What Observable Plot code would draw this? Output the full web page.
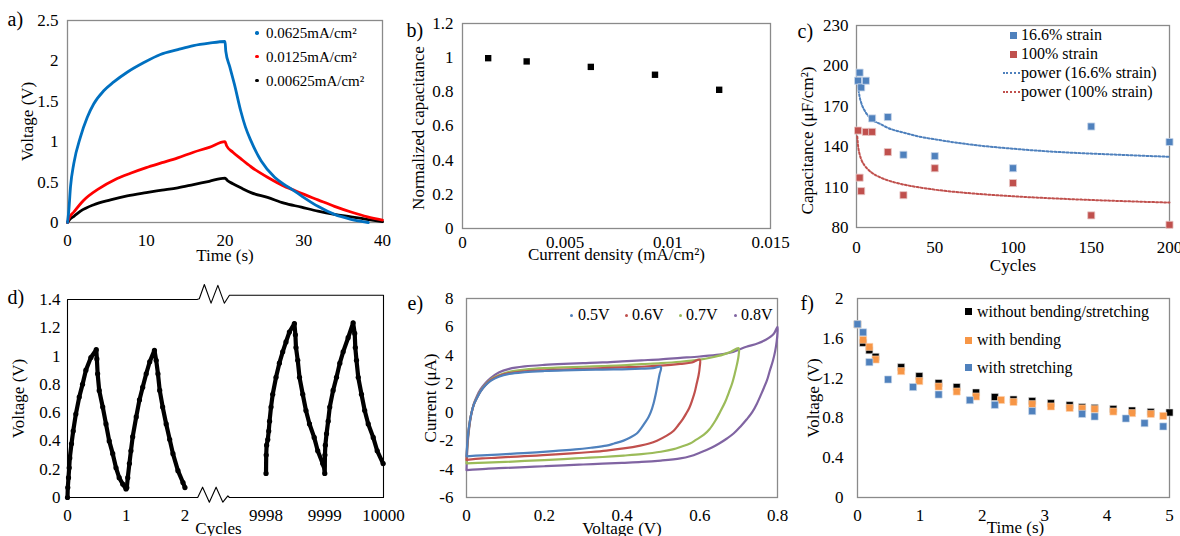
<!DOCTYPE html>
<html><head><meta charset="utf-8">
<script src="https://cdn.jsdelivr.net/npm/d3@7"></script>
<script src="https://cdn.jsdelivr.net/npm/@observablehq/plot@0.6"></script>
<style>
body{margin:0;background:#fff;}
#fig{position:relative;width:1180px;height:536px;overflow:hidden;background:#fff;font-family:"Liberation Serif","Times New Roman",serif;}
#fig svg{position:absolute;overflow:visible;}
.leg{position:absolute;line-height:1;white-space:nowrap;color:#000;transform:translateY(-50%);}
.mk{position:absolute;}
</style></head><body><div id="fig"></div>
<script>
// ---------- Panel a: galvanostatic charge/discharge ----------
const aTimeBlue = [0,0.17,0.38,0.8,1.65,2.5,3.34,4.6,5.88,7.58,9.7,11.8,14,16,18,20,20.1,20.6,21.2,22,22.6,23.3,24.6,26.3,27.5,28.5,29.7,31.8,33.9,36,38.2];
const aVoltBlue = [0,0.15,0.44,0.73,1.06,1.30,1.47,1.63,1.74,1.86,1.98,2.08,2.14,2.19,2.22,2.24,2.12,1.93,1.71,1.38,1.18,1.01,0.76,0.56,0.47,0.41,0.33,0.2,0.1,0.04,0.0];
const aTimeRed = [0,0.17,0.8,2,4,6,8,10,12,14,16,18,20,20.2,21,22,23.3,25.4,27.5,28.5,29.7,31.8,33.9,36,38.1,40];
const aVoltRed = [0,0.05,0.13,0.27,0.42,0.53,0.61,0.68,0.74,0.80,0.87,0.93,1.0,0.95,0.87,0.79,0.69,0.56,0.45,0.41,0.36,0.28,0.2,0.13,0.07,0.03];
const aTimeBlack = [0,0.3,0.85,1.65,3.34,5.46,7.58,10,12,14,16,18,20,20.3,21,22,23.3,25.4,27.5,29.7,31.8,33.9,36,38,40];
const aVoltBlack = [0,0.04,0.08,0.14,0.22,0.28,0.33,0.37,0.40,0.43,0.47,0.51,0.55,0.52,0.48,0.43,0.37,0.31,0.24,0.19,0.14,0.1,0.07,0.04,0.01];
const aLegend = ["0.0625mA/cm²","0.0125mA/cm²","0.00625mA/cm²"];

// ---------- Panel b: normalized capacitance ----------
const bDensity = [0.00125,0.003125,0.00625,0.009375,0.0125];
const bCap = [0.997,0.978,0.946,0.9,0.812];

// ---------- Panel c: capacitance vs cycles ----------
const cCycles = [1,2,3,6,10,20,30,50,100,150,200];
const cBlue = [189,195,184,189,161,162,134,133,124,155,143.5];
const cRed = [152,117,107,151,151,136,104,124,113,89,82];
const cTrendCyclesBlue = [1,2,3,5,7,10,15,20,30,40,50,70,100,130,160,200];
const cTrendBlue = [185,177,172.6,167.2,163.6,160,157,154,150.5,147.5,145.5,142,138.5,136,134.4,132.5];
const cTrendCyclesRed = [0.5,1,2,3,5,7,10,15,20,30,40,50,70,100,130,160,200];
const cTrendRed = [147.6,140.8,134.4,130.7,126.3,123.5,120.5,117.3,115,111.9,109.8,108.1,105.7,103.2,101.4,100,98.5];
const cLegend = ["16.6% strain","100% strain","power (16.6% strain)","power (100% strain)"];

// ---------- Panel d: cycling ----------
const dCycA = [0,0.005,0.017,0.029,0.039,0.068,0.097,0.142,0.2,0.256,0.313,0.398,0.49,0.5,0.513,0.54,0.6,0.655,0.71,0.77,0.826,0.88,0.94,0.997,1.01,1.026,1.054,1.08,1.11,1.17,1.225,1.28,1.34,1.4,1.48,1.51,1.54,1.57,1.62,1.68,1.74,1.795,1.88,1.966,2.0];
const dVoltA = [0,0.07,0.14,0.21,0.28,0.38,0.47,0.59,0.71,0.80,0.90,0.99,1.045,0.98,0.875,0.757,0.64,0.52,0.40,0.31,0.21,0.14,0.095,0.06,0.07,0.14,0.24,0.33,0.43,0.57,0.69,0.78,0.875,0.96,1.04,0.97,0.875,0.757,0.64,0.52,0.41,0.31,0.19,0.106,0.07];
const dCycB = [9998,9998.003,9998.01,9998.03,9998.046,9998.06,9998.085,9998.114,9998.17,9998.227,9998.284,9998.34,9998.398,9998.483,9998.50,9998.51,9998.54,9998.57,9998.625,9998.68,9998.74,9998.82,9998.88,9998.965,9998.985,9999.0,9999.003,9999.01,9999.03,9999.058,9999.085,9999.142,9999.2,9999.256,9999.313,9999.398,9999.483,9999.51,9999.52,9999.54,9999.57,9999.625,9999.68,9999.74,9999.825,9999.893,9999.994];
const dVoltB = [0.17,0.30,0.37,0.41,0.47,0.54,0.64,0.73,0.85,0.95,1.03,1.10,1.17,1.23,1.15,1.06,0.97,0.85,0.73,0.615,0.52,0.425,0.33,0.24,0.225,0.17,0.30,0.37,0.45,0.54,0.64,0.757,0.85,0.95,1.03,1.13,1.235,1.16,1.06,0.97,0.85,0.73,0.615,0.52,0.425,0.33,0.24];
const dTickCycles = [0,1,2,9998,9999,10000];
// axis break (broken-axis zigzag), in compressed axis units
const dBreakTop = [[2.205,1.4],[2.244,1.405],[2.33,1.506],[2.444,1.374],[2.56,1.5],[2.67,1.374],[2.757,1.43]];
const dBreakBottom = [[2.757,0.0],[2.73,0.012],[2.645,-0.033],[2.53,0.073],[2.415,-0.033],[2.30,0.073],[2.217,0.0]];

// ---------- Panel e: cyclic voltammetry ----------
const eV05 = [0,0.002,0.006,0.012,0.019,0.027,0.036,0.049,0.062,0.083,0.11,0.15,0.2,0.25,0.3,0.35,0.4,0.45,0.48,0.5,0.5,0.497,0.492,0.487,0.481,0.474,0.468,0.46,0.45,0.438,0.42,0.404,0.38,0.36,0.32,0.28,0.23,0.18,0.13,0.08,0.04,0];
const eI05 = [-3.1,-2.2,-1.1,-0.15,0.55,1.0,1.45,1.9,2.2,2.5,2.7,2.82,2.9,2.95,2.98,3.0,3.02,3.06,3.1,3.2,3.0,2.7,2.0,1.3,0.6,0.0,-0.35,-0.7,-1.1,-1.5,-1.8,-2.0,-2.2,-2.35,-2.5,-2.62,-2.72,-2.82,-2.9,-2.98,-3.03,-3.1];
const eV06 = [0,0.002,0.006,0.012,0.019,0.027,0.036,0.049,0.062,0.083,0.11,0.15,0.2,0.25,0.3,0.35,0.4,0.45,0.5,0.55,0.58,0.6,0.6,0.597,0.592,0.587,0.58,0.573,0.565,0.556,0.545,0.533,0.515,0.49,0.47,0.447,0.404,0.36,0.32,0.27,0.23,0.18,0.13,0.08,0.04,0];
const eI06 = [-3.35,-2.3,-1.15,-0.15,0.55,1.02,1.47,1.92,2.25,2.55,2.75,2.88,2.95,3.0,3.05,3.1,3.15,3.2,3.28,3.4,3.5,3.7,3.2,2.6,2.0,1.4,0.8,0.3,-0.1,-0.5,-0.9,-1.3,-1.65,-2.0,-2.2,-2.35,-2.55,-2.7,-2.8,-2.9,-2.97,-3.05,-3.12,-3.2,-3.25,-3.35];
const eV07 = [0,0.002,0.006,0.012,0.019,0.027,0.036,0.049,0.062,0.083,0.11,0.15,0.2,0.25,0.3,0.35,0.4,0.45,0.5,0.55,0.6,0.63,0.66,0.68,0.7,0.7,0.696,0.69,0.683,0.675,0.665,0.652,0.64,0.625,0.61,0.59,0.575,0.55,0.533,0.5,0.45,0.404,0.35,0.3,0.25,0.2,0.15,0.1,0.05,0];
const eI07 = [-3.6,-2.4,-1.2,-0.15,0.55,1.05,1.5,1.95,2.3,2.6,2.85,3.0,3.1,3.15,3.2,3.25,3.3,3.38,3.45,3.55,3.7,3.85,4.05,4.25,4.5,4.0,3.4,2.7,2.0,1.4,0.7,0.0,-0.6,-1.2,-1.6,-1.95,-2.2,-2.45,-2.6,-2.78,-2.95,-3.05,-3.15,-3.22,-3.3,-3.37,-3.43,-3.5,-3.55,-3.6];
const eV08 = [0,0.003,0.007,0.012,0.019,0.027,0.036,0.049,0.062,0.083,0.11,0.15,0.2,0.25,0.3,0.35,0.4,0.45,0.5,0.55,0.6,0.65,0.68,0.7,0.72,0.75,0.77,0.79,0.8,0.8,0.798,0.794,0.788,0.78,0.773,0.76,0.747,0.735,0.721,0.705,0.687,0.67,0.65,0.63,0.6,0.575,0.55,0.5,0.45,0.4,0.35,0.3,0.25,0.2,0.15,0.1,0.05,0];
const eI08 = [-4.07,-2.2,-1.1,-0.2,0.6,1.15,1.6,2.05,2.4,2.8,3.05,3.22,3.33,3.4,3.45,3.5,3.58,3.65,3.72,3.82,3.92,4.05,4.2,4.4,4.6,4.85,5.1,5.5,6.0,5.6,5.0,4.3,3.6,2.9,2.25,1.4,0.6,0.0,-0.5,-1.0,-1.5,-1.85,-2.2,-2.5,-2.85,-3.1,-3.25,-3.4,-3.5,-3.56,-3.62,-3.68,-3.74,-3.8,-3.86,-3.92,-3.98,-4.07];
const eLegend = ["0.5V","0.6V","0.7V","0.8V"];

// ---------- Panel f: self-discharge ----------
const fTimeBlack = [0,0.09,0.19,0.29,0.7,0.99,1.3,1.59,1.9,2.2,2.5,2.8,3.1,3.4,3.6,3.8,4.1,4.4,4.7,5.0];
const fVoltBlack = [1.74,1.554,1.48,1.414,1.31,1.22,1.15,1.11,1.055,1.01,0.985,0.97,0.948,0.928,0.908,0.90,0.89,0.874,0.86,0.854];
const fTimeOrange = [0,0.09,0.19,0.29,0.7,0.99,1.3,1.59,1.9,2.3,2.5,2.8,3.1,3.4,3.6,3.8,4.1,4.4,4.7,4.9];
const fVoltOrange = [1.74,1.585,1.514,1.387,1.27,1.17,1.115,1.065,1.015,0.98,0.96,0.938,0.915,0.90,0.895,0.888,0.864,0.848,0.84,0.82];
const fTimeBlue = [0,0.09,0.19,0.49,0.89,1.3,1.8,2.2,2.8,3.6,3.8,4.3,4.6,4.9];
const fVoltBlue = [1.742,1.66,1.36,1.186,1.11,1.035,0.978,0.931,0.868,0.84,0.814,0.794,0.747,0.714];
const fLegend = ["without bending/stretching","with bending","with stretching"];

// ---------- helpers ----------
const fig = document.getElementById("fig");
const rows = (xs, ys) => xs.map((x, i) => ({x, y: ys[i]}));
const fmt = d => d3.format("~g")(d).replace("\u2212", "-");
const FONT = "Liberation Serif";

function panel(o) {
  const svg = Plot.plot({
    width: o.w, height: o.h,
    marginLeft: o.fx0 - o.left, marginTop: o.fy0 - o.top,
    marginRight: o.left + o.w - o.fx1, marginBottom: o.top + o.h - o.fy1,
    x: {domain: o.xd}, y: {domain: o.yd},
    style: {fontFamily: FONT, fontSize: "17px", overflow: "visible", background: "none", color: "#000"},
    marks: [
      o.noFrame ? null : Plot.frame({stroke: "#8a8a8a", strokeWidth: 1.3}),
      Plot.axisX(o.xt, {tickSize: 0, tickPadding: o.xpad, tickFormat: o.xf || fmt, label: null}),
      Plot.axisY(o.yt, {tickSize: 0, tickPadding: o.ypad, tickFormat: o.yf || fmt, label: null}),
      Plot.text([o.xlabel], {frameAnchor: "bottom", textAnchor: "middle", lineAnchor: "middle", dy: o.xldy, dx: o.xldx || 0, fontSize: 17}),
      Plot.text([o.ylabel], {frameAnchor: "left", textAnchor: "middle", lineAnchor: "middle", rotate: -90, dx: o.yldx, dy: o.yldy || 0, fontSize: 17}),
      Plot.text([o.tag], {frameAnchor: "top-left", textAnchor: "start", lineAnchor: "middle", dx: o.tagdx, dy: o.tagdy, fontSize: 20}),
      ...o.marks
    ]
  });
  svg.style.left = o.left + "px";
  svg.style.top = o.top + "px";
  fig.append(svg);
}
function legText(x, y, text, size) {
  const d = document.createElement("div");
  d.className = "leg"; d.textContent = text;
  d.style.left = x + "px"; d.style.top = y + "px"; d.style.fontSize = size + "px";
  fig.append(d);
}
function legMark(cx, cy, s, color, round) {
  const d = document.createElement("div");
  d.className = "mk";
  Object.assign(d.style, {left: (cx - s / 2) + "px", top: (cy - s / 2) + "px", width: s + "px", height: s + "px", background: color, borderRadius: round ? "50%" : "0"});
  fig.append(d);
}
function legDotted(x0, x1, y, color) {
  const d = document.createElement("div");
  d.className = "mk";
  Object.assign(d.style, {left: x0 + "px", top: (y - 1) + "px", width: (x1 - x0) + "px", height: "0px", borderTop: "2px dotted " + color});
  fig.append(d);
}

// ---------- a ----------
const aColors = ["#0070c0", "#ff0000", "#000000"];
panel({left: 0, top: 0, w: 390, h: 268, fx0: 67, fy0: 20, fx1: 382, fy1: 222,
  xd: [0, 40], yd: [0, 2.5], xt: [0, 10, 20, 30, 40], yt: [0, 0.5, 1, 1.5, 2, 2.5],
  xpad: 11, ypad: 9, xlabel: "Time (s)", xldy: 33, ylabel: "Voltage (V)", yldx: -40,
  tag: "a)", tagdx: -60, tagdy: -1,
  marks: [
    Plot.line(rows(aTimeBlack, aVoltBlack), {x: "x", y: "y", stroke: aColors[2], strokeWidth: 2.8, curve: "monotone-x"}),
    Plot.line(rows(aTimeRed, aVoltRed), {x: "x", y: "y", stroke: aColors[1], strokeWidth: 2.8, curve: "monotone-x"}),
    Plot.line(rows(aTimeBlue, aVoltBlue), {x: "x", y: "y", stroke: aColors[0], strokeWidth: 2.8, curve: "monotone-x"})
  ]});
[33, 56.5, 80.5].forEach((y, i) => { legMark(257, y, 3.4, aColors[i], true); legText(266, y, aLegend[i], 15); });

// ---------- b ----------
panel({left: 390, top: 0, w: 390, h: 268, fx0: 462, fy0: 23, fx1: 770, fy1: 228,
  xd: [0, 0.015], yd: [0, 1.2], xt: [0, 0.005, 0.01, 0.015], yt: [0, 0.2, 0.4, 0.6, 0.8, 1, 1.2],
  xpad: 7, ypad: 9, xlabel: "Current density (mA/cm²)", xldy: 26, ylabel: "Normalized capacitance", yldx: -44, yldy: 2,
  tag: "b)", tagdx: -56, tagdy: 7,
  marks: [
    Plot.dot(rows(bDensity, bCap), {x: "x", y: "y", symbol: "square", r: 3.6, fill: "#000"})
  ]});

// ---------- c ----------
const cBlueC = "#4f81bd", cRedC = "#c0504d";
panel({left: 780, top: 0, w: 400, h: 270, fx0: 856, fy0: 25, fx1: 1169, fy1: 227,
  xd: [0, 200], yd: [80, 230], xt: [0, 50, 100, 150, 200], yt: [80, 110, 140, 170, 200, 230],
  xpad: 13, ypad: 8, xlabel: "Cycles", xldy: 38, ylabel: "Capacitance (μF/cm²)", yldx: -49, yldy: 14,
  tag: "c)", tagdx: -59, tagdy: 6,
  marks: [
    Plot.line(rows(cTrendCyclesBlue, cTrendBlue), {x: "x", y: "y", stroke: cBlueC, strokeWidth: 2, strokeDasharray: "2,2", curve: "monotone-x"}),
    Plot.line(rows(cTrendCyclesRed, cTrendRed), {x: "x", y: "y", stroke: cRedC, strokeWidth: 2, strokeDasharray: "2,2", curve: "monotone-x"}),
    Plot.dot(rows(cCycles, cBlue), {x: "x", y: "y", symbol: "square", r: 4, fill: cBlueC, stroke: "#c9d7ea", strokeWidth: 0.8}),
    Plot.dot(rows(cCycles, cRed), {x: "x", y: "y", symbol: "square", r: 4, fill: cRedC, stroke: "#e8c8c7", strokeWidth: 0.8})
  ]});
legMark(1013, 35.3, 7, cBlueC, false); legText(1021, 35.3, cLegend[0], 16);
legMark(1013, 54, 7, cRedC, false); legText(1021, 54, cLegend[1], 16);
legDotted(1003, 1020, 72.7, cBlueC); legText(1021, 72.7, cLegend[2], 16);
legDotted(1003, 1020, 92, cRedC); legText(1021, 92, cLegend[3], 16);

// ---------- d ----------
const dMap = c => c < 5000 ? c : c - 9998 + 3.38;
const dTickMap = new Map(dTickCycles.map(c => [dMap(c), String(c)]));
const dFrame = [[0, 0], [0, 1.4], ...dBreakTop, [dMap(10000), 1.43], [dMap(10000), 0], ...dBreakBottom, [0, 0]];
panel({left: 0, top: 270, w: 390, h: 266, fx0: 67, fy0: 299, fx1: 383, fy1: 497,
  xd: [0, dMap(10000)], yd: [0, 1.4], xt: dTickCycles.map(dMap), yt: [0, 0.2, 0.4, 0.6, 0.8, 1, 1.2, 1.4],
  xf: u => dTickMap.get(u), xpad: 11, ypad: 7, xlabel: "Cycles", xldy: 31, xldx: -7, ylabel: "Voltage (V)", yldx: -49,
  tag: "d)", tagdx: -60, tagdy: -2, noFrame: true,
  marks: [
    Plot.line(dFrame, {x: d => d[0], y: d => d[1], stroke: "#000", strokeWidth: 1.1}),
    Plot.line(rows(dCycA, dVoltA), {x: d => dMap(d.x), y: "y", stroke: "#000", strokeWidth: 4.2}),
    Plot.line(rows(dCycB, dVoltB), {x: d => dMap(d.x), y: "y", stroke: "#000", strokeWidth: 4.2}),
    Plot.dot(rows(dCycA, dVoltA).concat(rows(dCycB, dVoltB)), {x: d => dMap(d.x), y: "y", r: 2.6, fill: "#000"})
  ]});

// ---------- e ----------
const eColors = ["#4f81bd", "#c0504d", "#9bbb59", "#8064a2"];
panel({left: 390, top: 270, w: 390, h: 266, fx0: 466, fy0: 298, fx1: 777, fy1: 497,
  xd: [0, 0.8], yd: [-6, 8], xt: [0, 0.2, 0.4, 0.6, 0.8], yt: [-6, -4, -2, 0, 2, 4, 6, 8],
  xpad: 11, ypad: 13, xlabel: "Voltage (V)", xldy: 31, ylabel: "Current (μA)", yldx: -36,
  tag: "e)", tagdx: -59, tagdy: 5,
  marks: [
    Plot.line(rows(eV08, eI08), {x: "x", y: "y", stroke: eColors[3], strokeWidth: 2.2, curve: "catmull-rom"}),
    Plot.line(rows(eV07, eI07), {x: "x", y: "y", stroke: eColors[2], strokeWidth: 2.2, curve: "catmull-rom"}),
    Plot.line(rows(eV06, eI06), {x: "x", y: "y", stroke: eColors[1], strokeWidth: 2.2, curve: "catmull-rom"}),
    Plot.line(rows(eV05, eI05), {x: "x", y: "y", stroke: eColors[0], strokeWidth: 2.2, curve: "catmull-rom"})
  ]});
[[571, 578], [626, 632], [680, 686], [735, 741]].forEach(([mx, tx], i) => { legMark(mx, 315, 3, eColors[i], true); legText(tx, 315, eLegend[i], 16); });

// ---------- f ----------
const fColors = ["#000000", "#f79646", "#4f81bd"];
panel({left: 780, top: 270, w: 400, h: 266, fx0: 857, fy0: 298, fx1: 1169, fy1: 497,
  xd: [0, 5], yd: [0, 2], xt: [0, 1, 2, 3, 4, 5], yt: [0, 0.4, 0.8, 1.2, 1.6, 2],
  xpad: 11, ypad: 14, xlabel: "Time (s)", xldy: 30, xldx: 2, ylabel: "Voltage (V)", yldx: -44,
  tag: "f)", tagdx: -57, tagdy: 5,
  marks: [
    Plot.dot(rows(fTimeBlack, fVoltBlack), {x: "x", y: "y", symbol: "square", r: 4, fill: fColors[0], stroke: "#ddd", strokeWidth: 0.6}),
    Plot.dot(rows(fTimeOrange, fVoltOrange), {x: "x", y: "y", symbol: "square", r: 4, fill: fColors[1], stroke: "#fbd5b5", strokeWidth: 0.6}),
    Plot.dot(rows(fTimeBlue, fVoltBlue), {x: "x", y: "y", symbol: "square", r: 4, fill: fColors[2], stroke: "#c9d7ea", strokeWidth: 0.6})
  ]});
[311.7, 340, 367.7].forEach((y, i) => { legMark(968.3, y, 7, fColors[i], false); legText(977, y, fLegend[i], 16); });
</script></body></html>
